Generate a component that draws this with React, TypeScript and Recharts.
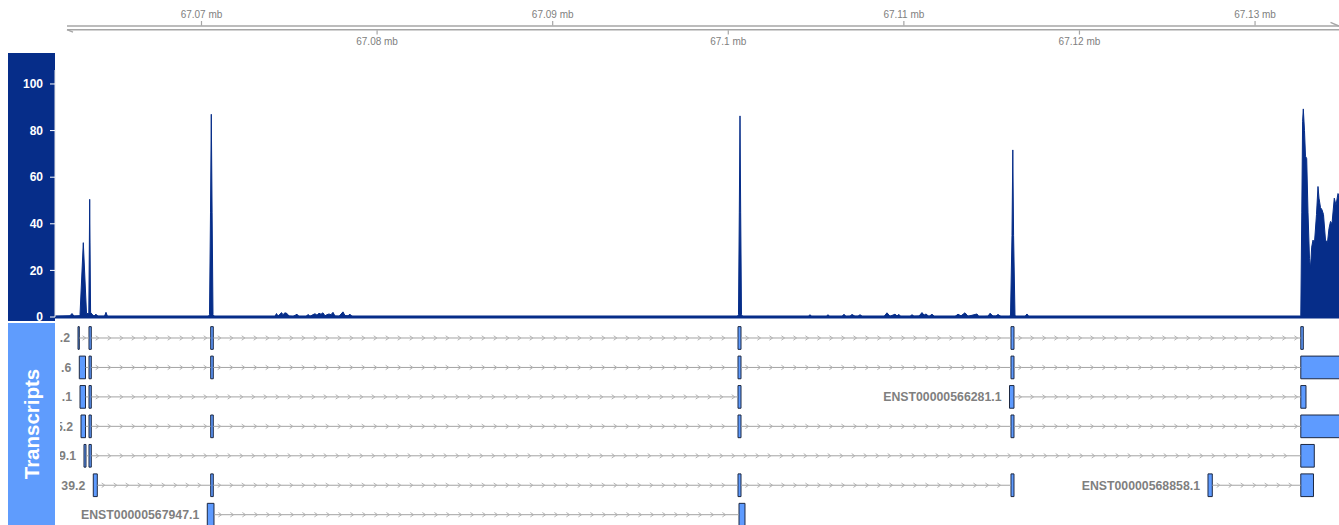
import React from "react";
import { ComposedChart, Area, Scatter, XAxis, YAxis, ReferenceLine, ReferenceArea } from "recharts";

// genomic window shown (bp)
const X_MIN = 67061657;
const X_MAX = 67134781;
const AXIS_START = 67062340;

const axisTicks = [67070000, 67080000, 67090000, 67100000, 67110000, 67120000, 67130000];
const axisTickLabels = ["67.07 mb", "67.08 mb", "67.09 mb", "67.1 mb", "67.11 mb", "67.12 mb", "67.13 mb"];

// coverage track
const coveragePos = [
  67061657, 67062511, 67062625, 67062739, 67063024, 67063081, 67063269, 67063451, 67063582, 67063633,
  67063684, 67063764, 67063878, 67063992, 67064106, 67064476, 67064561, 67064647, 67064903,
  67070370, 67070456, 67070513, 67070558, 67070604, 67070655, 67070769,
  67074072, 67074186, 67074271, 67074357, 67074471, 67074556, 67074641, 67074755, 67074869, 67074983,
  67075211, 67075439, 67075553, 67075951, 67076065, 67076179, 67076350, 67076464, 67076578, 67076692,
  67076806, 67076919, 67077033, 67077147, 67077261, 67077375, 67077489, 67077603, 67077831, 67078058,
  67078172, 67078343, 67078457, 67078571, 67078742,
  67100497, 67100582, 67100628, 67100668, 67100707, 67100753, 67100839,
  67104540, 67104654, 67104768, 67105565, 67105679, 67105793, 67106476, 67106590, 67106704, 67106932,
  67107046, 67107217, 67107388, 67107502, 67107672, 67108868, 67109039, 67109210, 67109495, 67109609,
  67109723, 67109837, 67110349, 67110463, 67110577, 67110862, 67111032, 67111146, 67111260, 67111431,
  67111602, 67111773, 67112912, 67113083, 67113254, 67113481, 67113652, 67114165, 67114279, 67114791,
  67114905, 67115076, 67115247, 67115361, 67115532, 67115930,
  67116073, 67116158, 67116204, 67116249, 67116329, 67116443, 67116898, 67117012, 67117126, 67117240,
  67132560, 67132605, 67132662, 67132708, 67132748, 67132816, 67132873, 67132941, 67133015, 67133101,
  67133158, 67133226, 67133300, 67133385, 67133499, 67133585, 67133642, 67133727, 67133812, 67133898,
  67134012, 67134126, 67134211, 67134297, 67134382, 67134513, 67134610, 67134724, 67134781,
];
const coverageVal = [
  0.3, 0.5, 1.5, 0.4, 0.5, 1, 31.9, 1.5, 1.5, 50.5,
  2, 1.2, 0.4, 1.2, 0.3, 0.3, 2, 0.2, 0,
  0, 1, 45, 87, 45, 1, 0,
  0, 0.3, 1.5, 0.4, 1.2, 1.9, 1, 1.8, 1.5, 0.4,
  0.2, 1.2, 0.2, 0.2, 1.1, 0.3, 1, 1.4, 0.8, 1.6,
  1.2, 1.8, 0.5, 1, 1.3, 1, 2, 0.4, 0.3, 2.2,
  0.6, 0.5, 1.2, 0.3, 0,
  0, 1, 45, 86.3, 45, 1, 0,
  0, 1, 0, 0, 1, 0, 0.2, 1.2, 0.2, 0.3,
  1.1, 0.3, 0.3, 1, 0, 0.2, 1.8, 0.3, 1.2, 0.5,
  1.1, 0, 0.2, 1, 0.3, 0.4, 1.9, 0.8, 1.3, 0.2,
  1.2, 0, 0.2, 1.2, 0.5, 1.8, 0.3, 1.3, 0.1, 0.3,
  1.6, 0.4, 0.4, 1.1, 0.2, 0,
  0.5, 35, 71.7, 35, 0.5, 0, 0.2, 1.3, 0.1, 0,
  0, 0.5, 45, 84, 89.3, 80, 69, 68, 45, 25,
  21, 30, 33, 32, 44, 56, 51, 47, 46, 44,
  33, 32, 38, 41, 40, 51, 48, 53, 52,
];
const yTicks = [0, 20, 40, 60, 80, 100];

// transcripts (labels are the parts left of the title panel)
const txLabels = [".2", ".6", ".1", "ENST00000566281.1", "5.2", "9.1", "39.2", "ENST00000568858.1", "ENST00000567947.1"];
const txRows = [1, 2, 3, 3, 4, 5, 6, 6, 7];
const txExons: number[][][] = [
  [[67062967, 67063041], [67063593, 67063724], [67070524, 67070672], [67100554, 67100725], [67116101, 67116272], [67132605, 67132748]],
  [[67063041, 67063394], [67063593, 67063724], [67070524, 67070672], [67100554, 67100725], [67116101, 67116272], [67132605, 67136500]],
  [[67063081, 67063394], [67063593, 67063724], [67100554, 67100725]],
  [[67116016, 67116272], [67132605, 67132901]],
  [[67063138, 67063394], [67063593, 67063724], [67070524, 67070672], [67100554, 67100725], [67116101, 67116272], [67132605, 67136500]],
  [[67063308, 67063422], [67063593, 67063724], [67132605, 67133374]],
  [[67063838, 67064066], [67070524, 67070672], [67100554, 67100725], [67116101, 67116272]],
  [[67127320, 67127565], [67132605, 67133328]],
  [[67070330, 67070712], [67100611, 67100952]],
];

const NAVY = "#062D89";
const LIGHT = "#5F9CFD";
const EXON = "#5E9BFF";
const FONT = "'Liberation Sans', Arial, Helvetica, sans-serif";

const covData = coveragePos.map((p, i) => ({ pos: p, cov: coverageVal[i] }));
const tickData = axisTicks.map((t, i) => ({ pos: t, y: 27.8, label: axisTickLabels[i], i }));
const labelData = txLabels.map((l, i) => ({ x: txExons[i][0][0], row: txRows[i], label: l }));
const introns = txExons.flatMap((ex, i) =>
  ex.slice(1).map((e, k) => ({ a: ex[k][1], b: e[0], row: txRows[i] }))
);
const exons = txExons.flatMap((ex, i) => ex.map((e) => ({ a: e[0], b: e[1], row: txRows[i] })));

const AxisTick = (p: any) => {
  const { cx, cy, payload } = p;
  const up = payload.i % 2 === 0;
  return (
    <g>
      <line x1={cx} x2={cx} y1={up ? cy - 6.8 : cy + 2.5} y2={up ? cy - 2.2 : cy + 6.8} stroke="#a6a6a6" strokeWidth={1.2} />
      <text x={cx} y={up ? cy - 9.5 : cy + 17.5} textAnchor="middle" fontSize={10} fill="#808080" fontFamily={FONT}>
        {payload.label}
      </text>
    </g>
  );
};

const IntronShape = (p: any) => {
  const x1 = Number(p.x1);
  const x2 = Number(p.x2);
  const y = Number(p.y1);
  const len = x2 - x1;
  const marks: number[] = [];
  if (len >= 8 && len < 16) marks.push((x1 + x2) / 2);
  else for (let c = x1 + 6; c < x2 - 4; c += 12) marks.push(c);
  return (
    <g>
      <line x1={x1} x2={x2} y1={y} y2={y} stroke="#a3a3a3" strokeWidth={1} />
      {marks.map((c, i) => (
        <path key={i} d={`M${c - 1.6},${y - 2.2} L${c + 1.6},${y} L${c - 1.6},${y + 2.2}`} fill="none" stroke="#b3b3b3" strokeWidth={1} />
      ))}
    </g>
  );
};

const TxLabel = (p: any) => (
  <text x={p.cx - 8} y={p.cy + 4.3} textAnchor="end" fontSize={12.3} fontWeight="bold" fill="#7f7f7f" fontFamily={FONT}>
    {p.payload.label}
  </text>
);

export default function App() {
  return (
    <div style={{ position: "absolute", left: 0, top: 0, width: 1339, height: 525, fontFamily: FONT, background: "#fff" }}>
      {/* genome axis */}
      <div style={{ position: "absolute", left: 0, top: 0 }}>
        <ComposedChart width={1339} height={53} margin={{ top: 0, right: 0, bottom: 0, left: 55 }}>
          <XAxis hide type="number" dataKey="pos" domain={[X_MIN, X_MAX]} allowDataOverflow />
          <YAxis hide type="number" dataKey="y" domain={[0, 53]} reversed allowDataOverflow />
          <ReferenceLine segment={[{ x: AXIS_START, y: 26 }, { x: X_MAX, y: 26 }]} stroke="#a6a6a6" strokeWidth={1.4} ifOverflow="visible" />
          <ReferenceLine segment={[{ x: AXIS_START, y: 29.7 }, { x: X_MAX, y: 29.7 }]} stroke="#a6a6a6" strokeWidth={1.4} ifOverflow="visible" />
          <ReferenceLine segment={[{ x: AXIS_START, y: 29.7 }, { x: 67062682, y: 32.2 }]} stroke="#a6a6a6" strokeWidth={1.4} ifOverflow="visible" />
          <ReferenceLine segment={[{ x: 67134297, y: 22.4 }, { x: X_MAX, y: 26 }]} stroke="#a6a6a6" strokeWidth={1.4} ifOverflow="visible" />
          <Scatter data={tickData} shape={AxisTick} isAnimationActive={false} />
        </ComposedChart>
      </div>

      {/* coverage track */}
      <div style={{ position: "absolute", left: 8, top: 53, width: 47, height: 268, background: NAVY }} />
      <div style={{ position: "absolute", left: 0, top: 53 }}>
        <ComposedChart width={1339} height={276} data={covData} margin={{ top: 17, right: 0, bottom: 12, left: 8 }}>
          <XAxis hide type="number" dataKey="pos" domain={[X_MIN, X_MAX]} allowDataOverflow />
          <YAxis
            type="number"
            domain={[0, 106]}
            ticks={yTicks}
            interval={0}
            width={47}
            tickSize={5}
            tickMargin={7}
            axisLine={{ stroke: "#e6e6e6", strokeWidth: 1 }}
            tickLine={{ stroke: "#ffffff", strokeWidth: 1 }}
            tick={{ fill: "#ffffff", fontSize: 12, fontWeight: "bold", fontFamily: FONT }}
          />
          <Area type="linear" dataKey="cov" fill={NAVY} fillOpacity={1} stroke={NAVY} strokeWidth={1} baseValue={0} isAnimationActive={false} dot={false} activeDot={false} />
          <ReferenceLine y={0} stroke={NAVY} strokeWidth={3} />
        </ComposedChart>
      </div>

      {/* transcripts track */}
      <div style={{ position: "absolute", left: 0, top: 321, width: 1339, height: 2, background: "#ffffff" }} />
      <div style={{ position: "absolute", left: 0, top: 323 }}>
        <ComposedChart width={1339} height={202} margin={{ top: 0, right: 0, bottom: 0, left: 55 }}>
          <XAxis hide type="number" dataKey="x" domain={[X_MIN, X_MAX]} allowDataOverflow />
          <YAxis hide type="number" dataKey="row" domain={[0.491, 7.35]} reversed allowDataOverflow />
          {introns.map((t, i) => (
            <ReferenceLine key={"i" + i} segment={[{ x: t.a, y: t.row }, { x: t.b, y: t.row }]} shape={IntronShape} ifOverflow="hidden" />
          ))}
          {exons.map((e, i) => (
            <ReferenceArea
              key={"e" + i}
              x1={e.a}
              x2={e.b}
              y1={e.row - 0.385}
              y2={e.row + 0.385}
              fill={EXON}
              fillOpacity={1}
              stroke="#1d2842"
              strokeWidth={1}
              ifOverflow="hidden"
            />
          ))}
          <Scatter data={labelData} shape={TxLabel} isAnimationActive={false} />
        </ComposedChart>
      </div>
      <div style={{ position: "absolute", left: 55, top: 323, width: 4.5, height: 202, background: "#ffffff" }} />
      <div style={{ position: "absolute", left: 8, top: 323, width: 47, height: 202, background: LIGHT, overflow: "hidden" }}>
        <span
          style={{
            position: "absolute",
            left: "50%",
            top: "50%",
            transform: "translate(-50%, -50%) rotate(-90deg)",
            color: "#ffffff",
            fontWeight: "bold",
            fontSize: 20.5,
            whiteSpace: "nowrap",
          }}
        >
          Transcripts
        </span>
      </div>
    </div>
  );
}
